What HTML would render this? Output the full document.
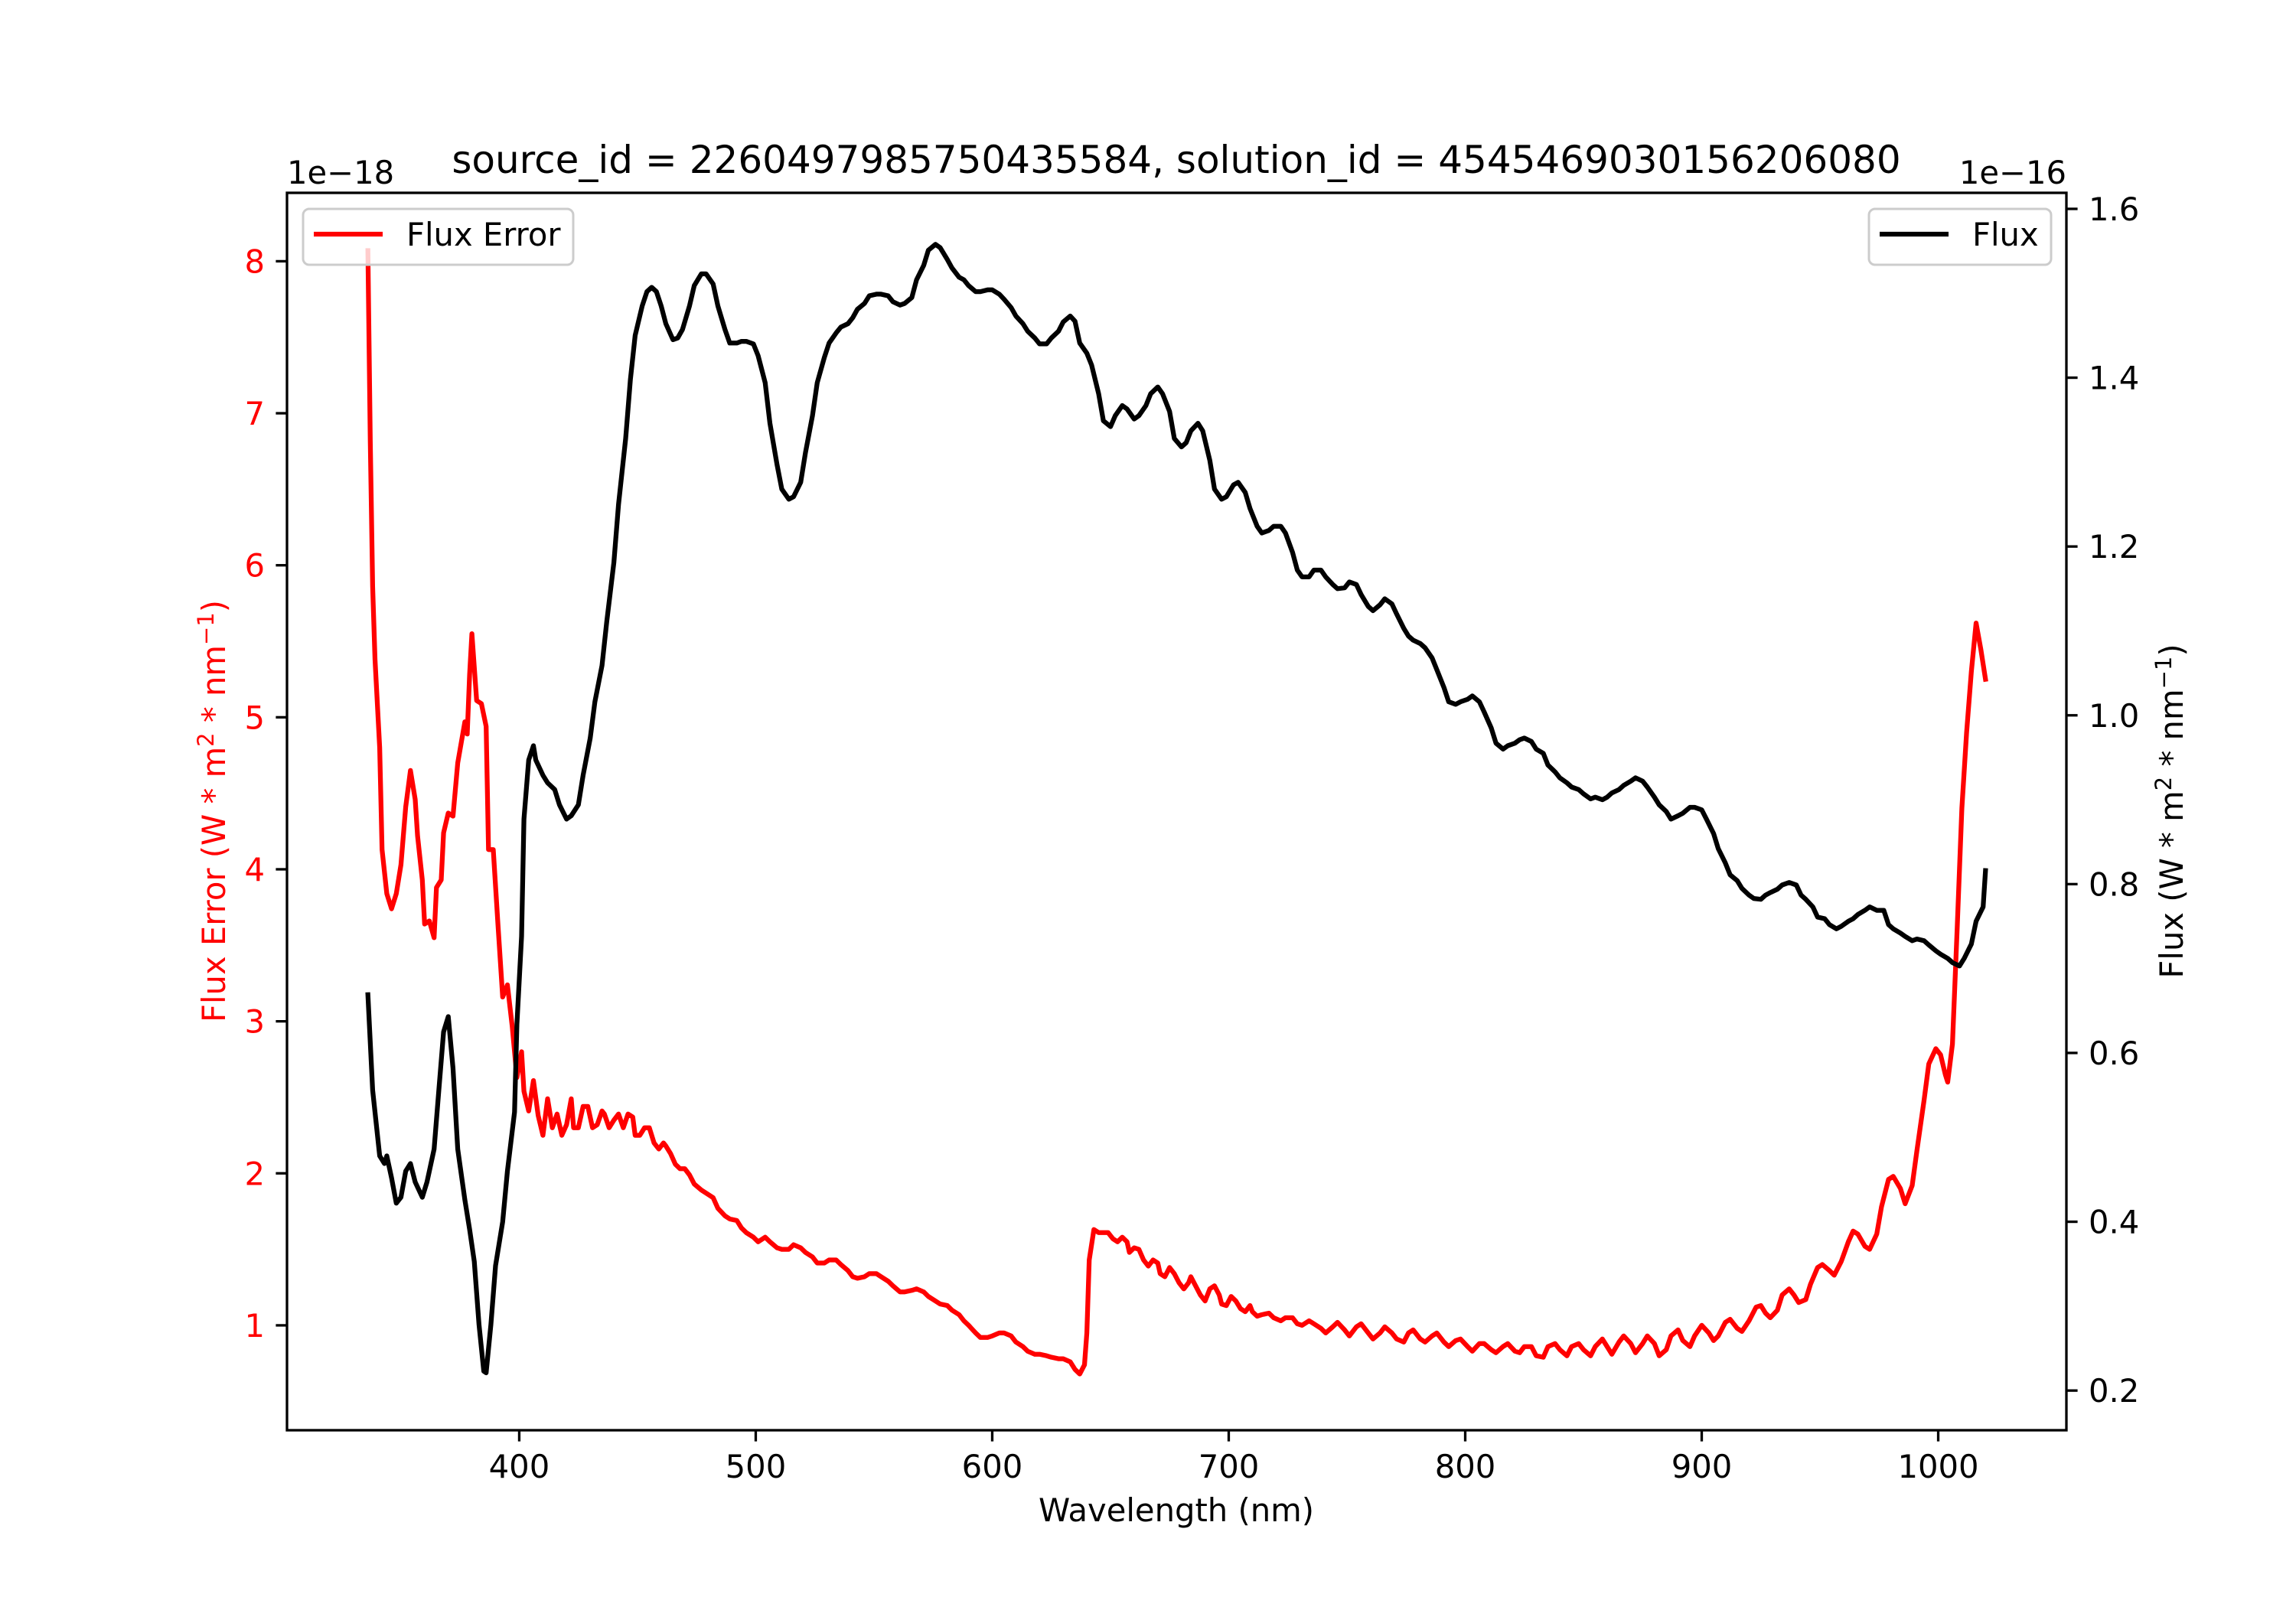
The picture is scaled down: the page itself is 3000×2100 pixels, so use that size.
<!DOCTYPE html>
<html><head><meta charset="utf-8"><style>
html,body{margin:0;padding:0;background:#fff}
svg{display:block;font-family:"DejaVu Sans","Liberation Sans",sans-serif}
</style></head><body>
<svg id="chart" width="3000" height="2100" viewBox="0 0 3000 2100">
<rect x="0" y="0" width="3000" height="2100" fill="#fff"/>
<g id="plot"></g>
<g id="axes"></g>
<text x="1537" y="226" font-size="50" text-anchor="middle">source_id = 2260497985750435584, solution_id = 4545469030156206080</text>
<text x="375" y="240" font-size="41.7">1e−18</text>
<text x="2700" y="240" font-size="41.7" text-anchor="end">1e−16</text>
<text x="1537" y="1988" font-size="41.7" text-anchor="middle">Wavelength (nm)</text>
<text transform="translate(294,1060) rotate(-90)" font-size="41.7" fill="#ff0000" text-anchor="middle">Flux Error (W * m<tspan font-size="29" dy="-15">2</tspan><tspan dy="15"> * nm</tspan><tspan font-size="29" dy="-15">−1</tspan><tspan dy="15">)</tspan></text>
<text transform="translate(2852,1060) rotate(-90)" font-size="41.7" fill="#000" text-anchor="middle">Flux (W * m<tspan font-size="29" dy="-15">2</tspan><tspan dy="15"> * nm</tspan><tspan font-size="29" dy="-15">−1</tspan><tspan dy="15">)</tspan></text>
<g>
<rect x="396" y="273" width="353" height="73" rx="8" fill="#fff" fill-opacity="0.8" stroke="#cccccc" stroke-width="3"/>
<line x1="410" y1="306" x2="500" y2="306" stroke="#ff0000" stroke-width="6.25"/>
<text x="531" y="321" font-size="41.7">Flux Error</text>
</g>
<g>
<rect x="2442" y="273" width="238" height="73" rx="8" fill="#fff" fill-opacity="0.8" stroke="#cccccc" stroke-width="3"/>
<line x1="2456" y1="306" x2="2546" y2="306" stroke="#000" stroke-width="6.25"/>
<text x="2577" y="321" font-size="41.7">Flux</text>
</g>
</svg>
<script>
const fluxWl=[336,338,341,343,344,346,348,350,352,354,356,359,361,364,366,368,370,372,374,377,379,381,383,385,386,388,390,393,395,398,399,401,402,404,406,407,410,412,415,417,420,422,425,427,430,432,435,437,440,442,445,447,449,452,454,456,458,460,462,465,467,469,472,474,477,479,482,484,487,489,492,494,496,499,501,504,506,509,511,514,516,519,521,524,526,529,531,534,536,539,541,543,546,548,551,553,556,558,561,563,566,568,571,573,576,578,581,583,586,588,590,593,595,598,600,603,605,608,610,613,615,618,620,623,625,628,630,633,635,637,640,642,645,647,650,652,655,657,660,662,665,667,670,672,675,677,680,682,684,687,689,692,694,697,699,702,704,707,709,712,714,717,719,722,724,727,729,731,734,736,739,741,744,746,749,751,754,756,759,761,764,766,769,771,774,776,778,781,783,786,788,791,793,796,798,801,803,806,808,811,813,816,818,821,823,825,828,830,833,835,838,840,843,845,848,850,853,855,858,860,862,865,867,870,872,875,877,880,882,885,887,890,892,895,897,900,902,905,907,910,912,915,917,920,922,925,927,929,932,934,937,940,942,944,947,949,952,954,957,959,962,964,966,969,971,974,977,979,981,984,986,989,991,994,996,999,1001,1004,1006,1009,1011,1014,1016,1019,1020];
const fluxVal=[0.669,0.556,0.478,0.469,0.478,0.452,0.422,0.429,0.460,0.469,0.447,0.429,0.447,0.486,0.556,0.625,0.643,0.582,0.486,0.426,0.391,0.353,0.278,0.223,0.221,0.278,0.348,0.400,0.460,0.530,0.634,0.738,0.877,0.947,0.964,0.947,0.929,0.920,0.912,0.894,0.877,0.881,0.894,0.929,0.973,1.016,1.059,1.111,1.181,1.250,1.328,1.398,1.450,1.485,1.502,1.507,1.502,1.485,1.464,1.445,1.447,1.457,1.485,1.509,1.523,1.523,1.511,1.485,1.457,1.441,1.441,1.443,1.443,1.440,1.426,1.394,1.346,1.297,1.268,1.256,1.259,1.276,1.311,1.355,1.394,1.424,1.441,1.453,1.460,1.464,1.471,1.481,1.488,1.497,1.499,1.499,1.497,1.490,1.486,1.488,1.495,1.516,1.533,1.551,1.558,1.554,1.540,1.530,1.519,1.516,1.509,1.502,1.502,1.504,1.504,1.499,1.493,1.483,1.473,1.464,1.455,1.447,1.440,1.440,1.447,1.455,1.466,1.473,1.467,1.441,1.429,1.415,1.381,1.349,1.342,1.355,1.367,1.363,1.351,1.355,1.367,1.381,1.389,1.381,1.360,1.328,1.318,1.323,1.337,1.346,1.337,1.302,1.268,1.256,1.259,1.273,1.276,1.264,1.245,1.224,1.216,1.219,1.224,1.224,1.216,1.193,1.172,1.164,1.164,1.172,1.172,1.164,1.155,1.150,1.151,1.158,1.155,1.143,1.129,1.124,1.131,1.138,1.132,1.120,1.103,1.094,1.089,1.085,1.080,1.068,1.054,1.033,1.016,1.013,1.016,1.019,1.023,1.016,1.004,0.985,0.967,0.960,0.964,0.967,0.971,0.973,0.969,0.960,0.955,0.941,0.933,0.926,0.920,0.915,0.912,0.907,0.901,0.903,0.900,0.903,0.908,0.912,0.917,0.922,0.926,0.922,0.915,0.903,0.894,0.886,0.877,0.881,0.884,0.891,0.891,0.888,0.877,0.860,0.842,0.825,0.811,0.804,0.795,0.787,0.783,0.782,0.787,0.790,0.794,0.799,0.802,0.799,0.787,0.782,0.773,0.761,0.759,0.752,0.747,0.750,0.756,0.759,0.764,0.769,0.773,0.769,0.769,0.752,0.747,0.742,0.738,0.733,0.735,0.733,0.728,0.721,0.717,0.712,0.707,0.703,0.712,0.729,0.756,0.773,0.816];
const errWl=[336,337,338,339,341,342,344,346,348,350,352,354,356,357,359,360,362,364,365,367,368,370,372,374,377,378,379,380,382,384,386,387,389,391,393,395,397,399,401,402,404,406,408,410,412,414,416,418,420,422,423,425,427,429,431,433,435,436,438,440,442,444,446,448,449,451,453,455,457,459,461,462,464,466,468,470,472,474,477,479,482,484,487,489,492,494,496,499,501,504,506,509,511,514,516,519,521,524,526,529,531,534,536,539,541,543,546,548,551,553,556,558,561,563,566,568,571,573,576,578,581,583,586,588,590,593,595,598,600,603,605,608,610,613,615,618,620,623,625,628,630,633,635,637,639,640,641,643,645,647,649,651,653,655,657,658,660,662,664,666,668,670,671,673,675,677,679,681,683,684,686,688,690,692,694,696,697,699,701,703,705,707,709,710,712,714,717,719,722,724,727,729,731,734,736,739,741,744,746,749,751,754,756,759,761,764,766,769,771,774,776,778,781,783,786,788,791,793,796,798,801,803,806,808,811,813,816,818,821,823,825,828,830,833,835,838,840,843,845,848,850,853,855,858,860,862,865,867,870,872,875,877,880,882,885,887,890,892,895,897,900,903,905,907,910,912,915,917,920,923,925,927,929,932,934,937,939,941,944,946,949,951,954,956,959,962,964,966,969,971,974,976,979,981,984,986,989,991,994,996,999,1001,1003,1004,1006,1008,1010,1012,1014,1016,1018,1020];
const errVal=[8.07,6.82,5.86,5.38,4.80,4.13,3.84,3.74,3.84,4.03,4.41,4.65,4.46,4.22,3.93,3.64,3.66,3.55,3.88,3.93,4.24,4.37,4.35,4.70,4.97,4.89,5.28,5.55,5.11,5.09,4.94,4.13,4.13,3.64,3.16,3.24,2.97,2.63,2.80,2.54,2.41,2.61,2.38,2.25,2.49,2.30,2.39,2.25,2.32,2.49,2.30,2.30,2.44,2.44,2.30,2.32,2.41,2.39,2.30,2.35,2.39,2.30,2.39,2.37,2.25,2.25,2.30,2.30,2.20,2.16,2.20,2.18,2.13,2.06,2.03,2.03,1.99,1.93,1.89,1.87,1.84,1.77,1.72,1.70,1.69,1.64,1.61,1.58,1.55,1.58,1.55,1.51,1.50,1.50,1.53,1.51,1.48,1.45,1.41,1.41,1.43,1.43,1.40,1.36,1.32,1.31,1.32,1.34,1.34,1.32,1.29,1.26,1.22,1.22,1.23,1.24,1.22,1.19,1.16,1.14,1.13,1.10,1.07,1.03,1.00,0.95,0.92,0.92,0.93,0.95,0.95,0.93,0.89,0.86,0.83,0.81,0.81,0.80,0.79,0.78,0.78,0.76,0.71,0.68,0.74,0.95,1.43,1.63,1.61,1.61,1.61,1.57,1.55,1.58,1.55,1.48,1.51,1.50,1.43,1.39,1.43,1.41,1.34,1.32,1.38,1.34,1.28,1.24,1.28,1.32,1.26,1.20,1.16,1.24,1.26,1.20,1.14,1.13,1.19,1.16,1.11,1.09,1.13,1.09,1.06,1.07,1.08,1.05,1.03,1.05,1.05,1.01,1.00,1.03,1.01,0.98,0.95,0.99,1.02,0.97,0.93,0.99,1.01,0.95,0.91,0.95,0.99,0.95,0.91,0.89,0.95,0.97,0.91,0.89,0.93,0.95,0.89,0.86,0.90,0.91,0.86,0.83,0.88,0.88,0.84,0.82,0.86,0.88,0.83,0.82,0.86,0.86,0.80,0.79,0.86,0.88,0.84,0.80,0.86,0.88,0.84,0.80,0.86,0.91,0.86,0.81,0.89,0.93,0.88,0.82,0.88,0.93,0.88,0.80,0.84,0.93,0.97,0.90,0.86,0.93,1.00,0.95,0.90,0.93,1.02,1.04,0.98,0.96,1.03,1.12,1.13,1.08,1.05,1.10,1.20,1.24,1.20,1.15,1.17,1.27,1.38,1.40,1.36,1.33,1.42,1.55,1.62,1.60,1.52,1.50,1.60,1.78,1.96,1.98,1.90,1.80,1.92,2.15,2.48,2.72,2.82,2.78,2.65,2.60,2.85,3.6,4.4,4.9,5.3,5.62,5.45,5.25];
const xTicks=[400,500,600,700,800,900,1000];
const errTicks=[1,2,3,4,5,6,7,8];
const fluxTicks=[0.2,0.4,0.6,0.8,1.0,1.2,1.4,1.6];

const L=375,R=2700,T=252,B=1869;
const xmin=301.8,xmax=1054.2,emin=0.31,emax=8.45,fmin=0.153,fmax=1.619;
const X=v=>L+(v-xmin)/(xmax-xmin)*(R-L);
const YE=v=>B-(v-emin)/(emax-emin)*(B-T);
const YF=v=>B-(v-fmin)/(fmax-fmin)*(B-T);
const NS='http://www.w3.org/2000/svg';
const plot=document.getElementById('plot'),axes=document.getElementById('axes');
function mk(tag,attrs,parent){const e=document.createElementNS(NS,tag);for(const k in attrs)e.setAttribute(k,attrs[k]);parent.appendChild(e);return e;}

const pe=mk('path',{d:errWl.map((w,i)=>(i?'L':'M')+X(w).toFixed(1)+','+YE(errVal[i]).toFixed(1)).join(''),fill:'none',stroke:'#ff0000','stroke-width':6.25,'stroke-linejoin':'round','stroke-linecap':'square'},plot);


const pf=mk('path',{d:fluxWl.map((w,i)=>(i?'L':'M')+X(w).toFixed(1)+','+YF(fluxVal[i]).toFixed(1)).join(''),fill:'none',stroke:'#000','stroke-width':6.25,'stroke-linejoin':'round','stroke-linecap':'square'},plot);



const frame=mk('rect',{x:L,y:T,width:R-L,height:B-T,fill:'none',stroke:'#000','stroke-width':3.3},axes);


xTicks.forEach(t=>{
  const x=X(t);
  const tk=mk('line',{x1:x,y1:B,x2:x,y2:B+14.6,stroke:'#000','stroke-width':3.3},axes);
  
  
  const lb=mk('text',{x:x,y:B+62,'font-size':41.7,'text-anchor':'middle'},axes);
  lb.textContent=t;
  
  
});
errTicks.forEach(t=>{
  const y=YE(t);
  const tk=mk('line',{x1:L-14.6,y1:y,x2:L,y2:y,stroke:'#000','stroke-width':3.3},axes);
  
  
  const lb=mk('text',{x:L-29,y:y+15,'font-size':41.7,'text-anchor':'end',fill:'#ff0000'},axes);
  lb.textContent=t;
  
  
});
fluxTicks.forEach(t=>{
  const y=YF(t);
  const tk=mk('line',{x1:R,y1:y,x2:R+14.6,y2:y,stroke:'#000','stroke-width':3.3},axes);
  
  
  const lb=mk('text',{x:R+29,y:y+15,'font-size':41.7,'text-anchor':'start'},axes);
  lb.textContent=t.toFixed(1);
  
  
});
</script>
</body></html>
